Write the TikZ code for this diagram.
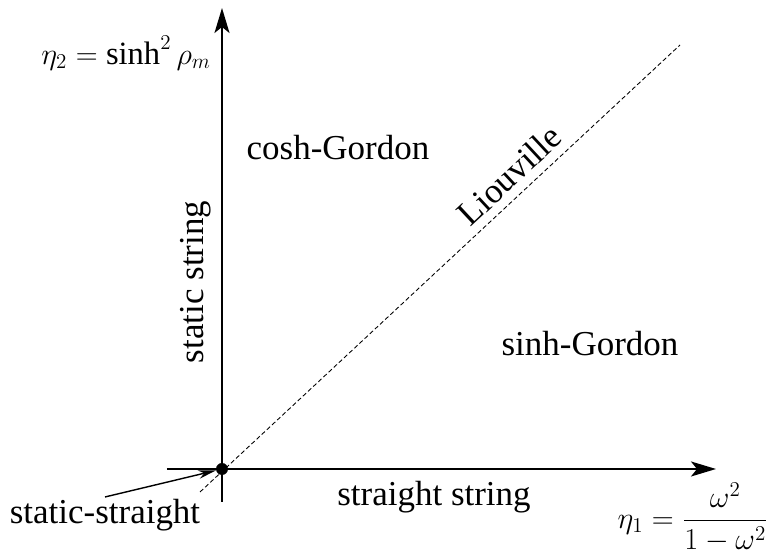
\documentclass[tikz,border=0pt]{standalone}
\usepackage{amsmath,amssymb}
\usepackage{fontspec}
\setmainfont{Liberation Serif}
\usetikzlibrary{arrows.meta, positioning, calc}

\begin{document}
\begin{tikzpicture}[
    axis/.style={line width=1.1pt, -{Stealth[length=0.5cm, width=0.3cm, inset=0.12cm]}},
    liouvilleline/.style={line width=0.5pt, dash pattern=on 2.5pt off 1.5pt},
    pointer/.style={line width=0.8pt, -{Stealth[length=0.35cm, width=0.17cm]}},
    region/.style={font=\fontsize{19.9}{24}\selectfont},
    dot/.style={circle, fill=black, inner sep=0pt, minimum size=0.24cm}
]
\useasboundingbox (-4.44,-1.62) rectangle (11.0,9.38);

% Nodes
\coordinate (xstart) at (-1.1,0);
\coordinate (xend) at (9.88,0);
\coordinate (ystart) at (0,-0.66);
\coordinate (yend) at (0,9.22);
\coordinate (lstart) at (-0.44,-0.46);
\coordinate (lend) at (9.16,8.48);

\node (origin) [dot] at (0,0) {};

\node (cosh) [region] at (2.32,6.42) {cosh-Gordon};
\node (sinh) [region] at (7.36,2.50) {sinh-Gordon};
\node (static) [region, rotate=90] at (-0.52,3.74) {static string};
\node (straight) [region] at (4.24,-0.56) {straight string};
\node (stst) [region, inner sep=1pt] at (-2.34,-0.92) {static-straight};

\node (etatwo) [region, left=0.1cm of yend, yshift=-0.9cm, font=\fontsize{18.5}{22}\selectfont] {$\eta_2=\sinh^2\rho_m$};
\node (etaone) [region, font=\fontsize{18.5}{22}\selectfont, inner sep=1pt] at (9.42,-0.97) {$\eta_1=\dfrac{\omega^2}{1-\omega^2}$};

% Arrows
\draw [axis] (xstart) -- (xend);
\draw [axis] (ystart) -- (yend);
\draw [liouvilleline] (lstart) -- node[pos=0.674, sloped, above=0.05cm, region] (liou) {Liouville} (lend);
\draw [pointer] (stst.north) -- (origin);

\end{tikzpicture}
\end{document}
